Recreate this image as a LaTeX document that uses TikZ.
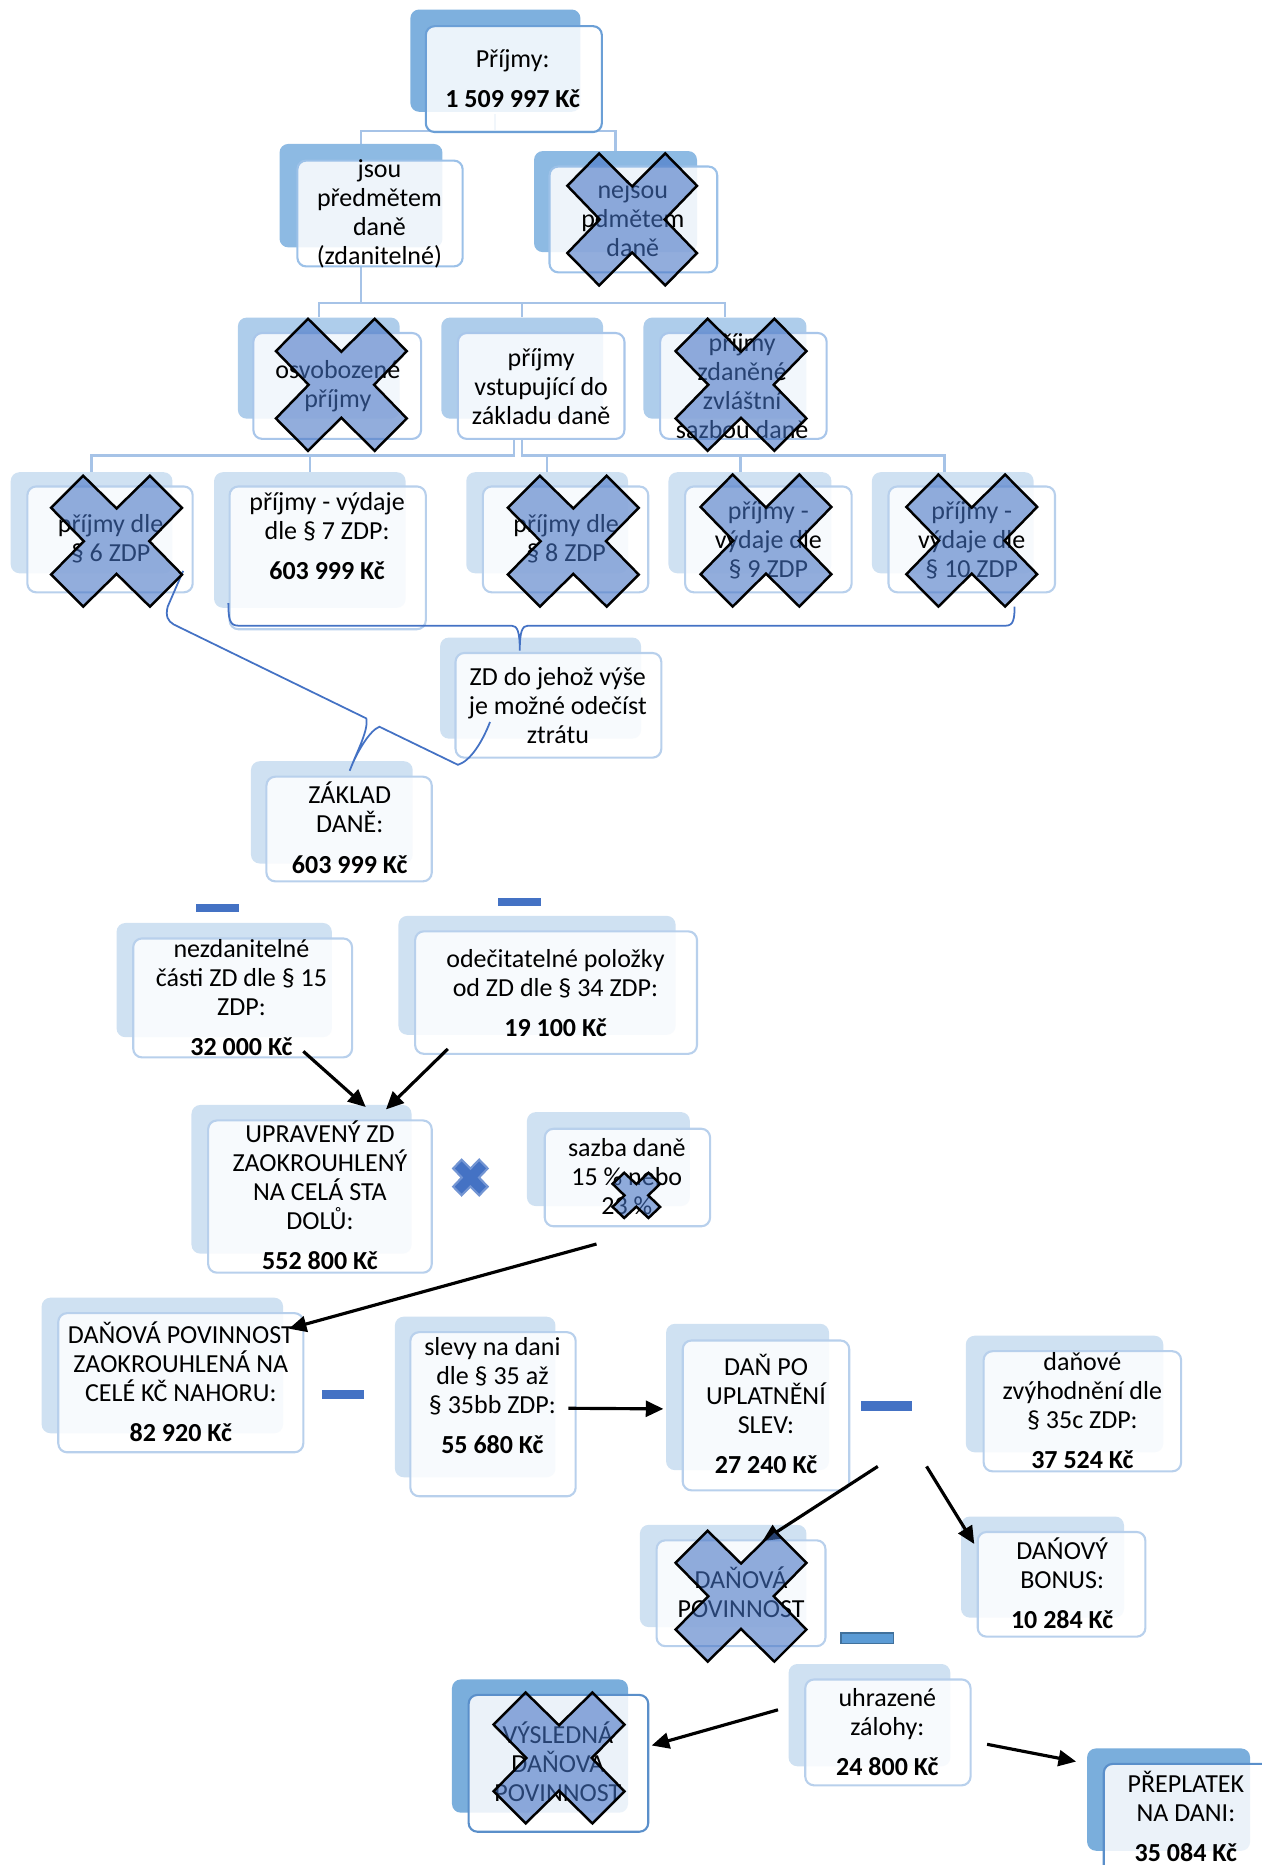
\documentclass[tikz,border=0pt]{standalone}
\usepackage{fontspec}
\setmainfont{Carlito}
\usetikzlibrary{arrows.meta,calc,fit}
\pgfdeclarelayer{bg}
\pgfsetlayers{bg,main}
\definecolor{topback}{HTML}{7EB0DE}
\definecolor{topline}{HTML}{6B9FD6}
\definecolor{secback}{HTML}{8DBAE3}
\definecolor{secline}{HTML}{9CC1E8}
\definecolor{thirdback}{HTML}{AECDEB}
\definecolor{thirdline}{HTML}{A9C6EA}
\definecolor{lowback}{HTML}{CFE1F2}
\definecolor{lowline}{HTML}{B8D0EC}
\definecolor{endback}{HTML}{7AAEDC}
\definecolor{endline}{HTML}{5A8FCA}
\definecolor{treeline}{HTML}{A6C3E7}
\definecolor{bracecol}{HTML}{4472C4}
\definecolor{crossfill}{HTML}{4472C4}
\definecolor{minusblue}{HTML}{4472C4}
\definecolor{lightminus}{HTML}{5B9BD5}
\definecolor{minusedge}{HTML}{41719C}
% cross-out mark: [style]{x1}{y1}{x2}{y2}
\newcommand{\bigcross}[5][xcross]{%
  \filldraw[#1, shift={(#2,#3)}, xscale={(#4-#2)/100}, yscale={(#5-#3)/100}]
    (0,24.5) -- (24.5,0) -- (50,25) -- (75.5,0) -- (100,24.5) -- (75,50) -- (100,75.5)
    -- (75.5,100) -- (50,75) -- (24.5,100) -- (0,75.5) -- (25,50) -- cycle;}

\begin{document}
\begin{tikzpicture}[x=0.2379mm, y=-0.2379mm,
  back/.style={fill=#1, rounded corners=5pt, inner sep=0pt},
  front/.style={draw=#1, fill=white, fill opacity=0.85, line width=1.2pt, rounded corners=5pt, inner sep=0pt},
  txt/.style={align=center, inner sep=0pt, font=\fontsize{14.8}{16.5}\selectfont},
  tree/.style={draw=treeline, line width=1.4pt},
  arr/.style={-{Triangle[length=10pt,width=9pt]}, line width=1.8pt},
  xcross/.style={fill=crossfill, fill opacity=0.58, draw=black, line width=1.4pt, line join=miter},
  multx/.style={fill=crossfill, draw=crossfill!75!white, line width=1.2pt, line join=miter},
  minusbar/.style={fill=minusblue},
  brace line/.style={draw=bracecol, line width=1pt}]
  \useasboundingbox (0,0) rectangle (1061,1568);
  \clip (0,0) rectangle (1061,1568);

  % income
  \node[back=topback, fit={(345,8)(488,94)}] (prijb) {};
  \node[front=topline, fit={(358,22)(506,111)}] (prij) {};
  \node[txt] (prijt) at (431,66) {Příjmy:\\[6.4pt]\textbf{1 509 997 Kč}};

  % subject / not subject
  \node[back=secback, fit={(235,121)(372,208)}] (jsoub) {};
  \node[front=secline, fit={(250,135)(389,224)}] (jsou) {};
  \node[txt] (jsout) at (319,180) {jsou\\předmětem\\daně\\(zdanitelné)};
  \node[back=secback, fit={(449,127)(586,212)}] (nejsoub) {};
  \node[front=secline, fit={(462,140)(603,229)}] (nejsou) {};
  \node[txt] (nejsout) at (532,184) {nejsou\\pdmětem\\daně};

  % third row
  \node[back=thirdback, fit={(200,267)(336,352)}] (osvb) {};
  \node[front=thirdline, fit={(213,280)(354,369)}] (osv) {};
  \node[txt] (osvt) at (284,325) {osvobozené\\příjmy};
  \node[back=thirdback, fit={(371,267)(507,352)}] (vstb) {};
  \node[front=thirdline, fit={(385,280)(525,369)}] (vst) {};
  \node[txt] (vstt) at (455,325) {příjmy\\vstupující do\\základu daně};
  \node[back=thirdback, fit={(541,267)(678,352)}] (zdanb) {};
  \node[front=thirdline, fit={(555,280)(695,369)}] (zdan) {};
  \node[txt] (zdant) at (624,325) {příjmy\\zdaněné\\zvláštní\\sazbou daně};

  % partial bases
  \node[back=lowback, fit={(9,397)(145,482)}] (p6b) {};
  \node[front=lowline, fit={(23,409)(162,498)}] (p6) {};
  \node[txt] (p6t) at (93,453) {příjmy dle\\§ 6 ZDP};
  \node[back=lowback, fit={(180,397)(341,511)}] (p7b) {};
  \node[front=lowline, fit={(193,409)(358,529)}] (p7) {};
  \node[txt] (p7t) at (275,451) {příjmy - výdaje\\dle § 7 ZDP:\\[6.4pt]\textbf{603 999 Kč}};
  \node[back=lowback, fit={(392,397)(528,482)}] (p8b) {};
  \node[front=lowline, fit={(406,409)(545,498)}] (p8) {};
  \node[txt] (p8t) at (476,453) {příjmy dle\\§ 8 ZDP};
  \node[back=lowback, fit={(562,397)(699,482)}] (p9b) {};
  \node[front=lowline, fit={(576,409)(716,498)}] (p9) {};
  \node[txt] (p9t) at (646,454) {příjmy -\\výdaje dle\\§ 9 ZDP};
  \node[back=lowback, fit={(733,397)(869,482)}] (p10b) {};
  \node[front=lowline, fit={(747,409)(887,498)}] (p10) {};
  \node[txt] (p10t) at (817,454) {příjmy -\\výdaje dle\\§ 10 ZDP};

  \node[back=lowback, fit={(370,536)(539,621)}] (zdb) {};
  \node[front=lowline, fit={(383,549)(556,637)}] (zd) {};
  \node[txt] (zdt) at (469,593) {ZD do jehož výše\\je možné odečíst\\ztrátu};
  \node[back=lowback, fit={(211,640)(347,726)}] (zaklb) {};
  \node[front=lowline, fit={(224,653)(363,741)}] (zakl) {};
  \node[txt] (zaklt) at (294,696) {ZÁKLAD\\DANĚ:\\[6.4pt]\textbf{603 999 Kč}};

  % deductions
  \node[back=lowback, fit={(98,776)(279,872)}] (nezdb) {};
  \node[front=lowline, fit={(112,789)(296,889)}] (nezd) {};
  \node[txt] (nezdt) at (203,839) {nezdanitelné\\části ZD dle § 15\\ZDP:\\[6.4pt]\textbf{32 000 Kč}};
  \node[back=lowback, fit={(335,770)(568,870)}] (odecb) {};
  \node[front=lowline, fit={(349,783)(586,886)}] (odec) {};
  \node[txt] (odect) at (467,835) {odečitatelné položky\\od ZD dle § 34 ZDP:\\[6.4pt]\textbf{19 100 Kč}};
  \node[back=lowback, fit={(161,929)(346,1054)}] (uprb) {};
  \node[front=lowline, fit={(175,942)(363,1070)}] (upr) {};
  \node[txt] (uprt) at (269,1005) {UPRAVENÝ ZD\\ZAOKROUHLENÝ\\NA CELÁ STA\\DOLŮ:\\[6.4pt]\textbf{552 800 Kč}};
  \node[back=lowback, fit={(443,935)(580,1014)}] (sazbab) {};
  \node[front=lowline, fit={(458,949)(597,1031)}] (sazba) {};
  \node[txt] (sazbat) at (527,989) {sazba daně\\15 \% nebo\\23 \%};

  % tax
  \node[back=lowback, fit={(35,1091)(238,1205)}] (povb) {};
  \node[front=lowline, fit={(49,1104)(255,1221)}] (pov) {};
  \node[txt] (povt) at (152,1162) {DAŇOVÁ POVINNOST\\ZAOKROUHLENÁ NA\\CELÉ KČ NAHORU:\\[6.4pt]\textbf{82 920 Kč}};
  \node[back=lowback, fit={(332,1107)(467,1242)}] (slevyb) {};
  \node[front=lowline, fit={(345,1120)(484,1258)}] (slevy) {};
  \node[txt] (slevyt) at (414,1173) {slevy na dani\\dle § 35 až\\§ 35bb ZDP:\\[6.4pt]\textbf{55 680 Kč}};
  \node[back=lowback, fit={(560,1113)(697,1236)}] (dpob) {};
  \node[front=lowline, fit={(574,1127)(714,1253)}] (dpo) {};
  \node[txt] (dpot) at (644,1189) {DAŇ PO\\UPLATNĚNÍ\\SLEV:\\[6.4pt]\textbf{27 240 Kč}};
  \node[back=lowback, fit={(812,1123)(978,1221)}] (zvyhb) {};
  \node[front=lowline, fit={(827,1136)(993,1237)}] (zvyh) {};
  \node[txt] (zvyht) at (910,1186) {daňové\\zvýhodnění dle\\§ 35c ZDP:\\[6.4pt]\textbf{37 524 Kč}};
  \node[back=lowback, fit={(538,1282)(678,1368)}] (pov2b) {};
  \node[front=lowline, fit={(552,1295)(694,1384)}] (pov2) {};
  \node[txt] (pov2t) at (623,1339) {DAŇOVÁ\\POVINNOST};
  \node[back=lowback, fit={(808,1275)(945,1360)}] (bonusb) {};
  \node[front=lowline, fit={(822,1288)(963,1376)}] (bonus) {};
  \node[txt] (bonust) at (893,1331) {DAŃOVÝ\\BONUS:\\[6.4pt]\textbf{10 284 Kč}};
  \node[back=lowback, fit={(663,1399)(799,1485)}] (uhrb) {};
  \node[front=lowline, fit={(677,1412)(816,1501)}] (uhr) {};
  \node[txt] (uhrt) at (746,1456) {uhrazené\\zálohy:\\[6.4pt]\textbf{24 800 Kč}};
  \node[back=endback, fit={(380,1412)(528,1524)}] (vyslb) {};
  \node[front=endline, fit={(394,1425)(545,1540)}] (vysl) {};
  \node[txt] (vyslt) at (469,1481) {VÝSLEDNÁ\\DAŇOVÁ\\POVINNOST};
  \node[back=endback, fit={(914,1470)(1051,1556)}] (preplb) {};
  \node[front=endline, fit={(928,1483)(1075,1580)}] (prepl) {};
  \node[txt] (preplt) at (997,1527) {PŘEPLATEK\\NA DANI:\\[6.4pt]\textbf{35 084 Kč}};

  % tree lines
  \begin{pgfonlayer}{bg}
    \coordinate (t1) at (416,110);
    \draw[tree] (jsoub.north) |- (t1) -- ++(0,-14);
    \draw[tree] (nejsoub.north) |- (t1);
    \draw[tree] ($(jsou.south)+(-16,0)$) -- ++(0,31);
    \draw[tree] (osvb.north) -- ++(0,-12) -| (zdanb.north);
    \draw[tree] (vstb.north) -- ++(0,-12);
    \draw[tree] ($(vst.south)+(-23,0)$) -- ++(0,13) -| (p6b.north);
    \draw[tree] ($(vst.south)+(-16,0)$) -- ++(0,13) -| ($(p10b.north)+(-7,0)$);
    \draw[tree] (p7b.north) -- ++(0,-15);
    \draw[tree] (p8b.north) -- ++(0,-15);
    \draw[tree] ($(p9b.north)+(-8,0)$) -- ++(0,-15);
  \end{pgfonlayer}

  % braces
  \draw[brace line] (192,507) .. controls (192,520) and (193,526) .. (200,526) -- (430,526)
    .. controls (435,526) and (437,531) .. (437,547) .. controls (437,531) and (439,526) .. (444,526)
    -- (846,526) .. controls (852,526) and (853,520) .. (853,510);
  \draw[brace line] (154,480) -- (141,510) .. controls (139,518) and (141,522) .. (146,525) -- (308,604)
    .. controls (310,614) and (300,632) .. (294,648) .. controls (300,632) and (311,614) .. (319,611)
    -- (385,643) .. controls (395,640) and (405,625) .. (412,607);

  % minus signs and times sign
  \fill[minusbar] (165,760) rectangle (201,767);
  \fill[minusbar] (419,755) rectangle (455,762);
  \fill[minusbar] (271,1169) rectangle (306,1176);
  \fill[minusbar] (724,1178) rectangle (767,1186);
  \filldraw[fill=lightminus, draw=minusedge, line width=0.8pt] (707,1373) rectangle (751,1382);
  \bigcross[multx]{381}{975}{410}{1005}

  % arrows
  \draw[arr] ($(nezd.south)+(51,-6)$) -- ($(uprb.north)+(54,2)$);
  \draw[arr] ($(odec.south)+(-91,-5)$) -- ($(uprb.north)+(71,4)$);
  \draw[arr] ($(sazba.south)+(-26,14)$) -- ($(pov.north east)+(-13,14)$);
  \draw[arr] ($(slevy.east)+(-7,-5)$) -- ($(dpob.west)+(-2,10)$);
  \draw[arr] ($(dpo.south)+(94,-21)$) -- ($(pov2b.north)+(33,14)$);
  \draw[arr] ($(dpo.south)+(135,-21)$) -- ($(bonus.north west)+(-2,11)$);
  \draw[arr] ($(uhr.west)+(-22,-19)$) -- ($(vysl.east)+(2,-15)$);
  \draw[arr] ($(uhr.east)+(13,10)$) -- ($(preplb.west)+(-9,-32)$);

  % crossed-out items
  \bigcross{477}{129}{586}{240}
  \bigcross{232}{268}{342}{379}
  \bigcross{568}{268}{678}{379}
  \bigcross{43}{400}{153}{510}
  \bigcross{427}{400}{537}{510}
  \bigcross{589}{399}{699}{510}
  \bigcross{762}{399}{872}{510}
  \bigcross{515}{986}{555}{1024}
  \bigcross{568}{1287}{678}{1397}
  \bigcross{415}{1423}{525}{1533}
\end{tikzpicture}
\end{document}
